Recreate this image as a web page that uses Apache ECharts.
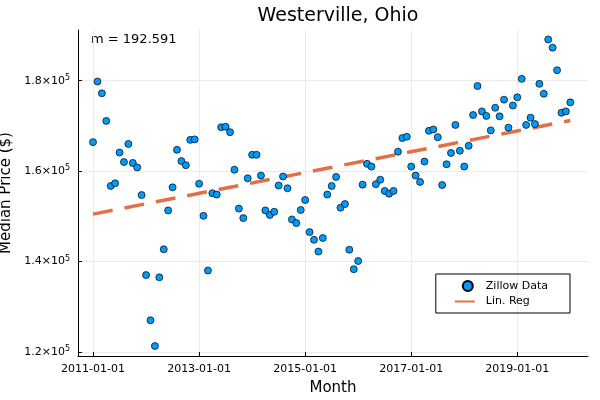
<!DOCTYPE html>
<html>
<head>
<meta charset="utf-8">
<script src="https://cdn.jsdelivr.net/npm/echarts@6/dist/echarts.min.js"></script>
<style>html,body{margin:0;padding:0;background:#fff}#main{width:600px;height:400px}</style>
</head>
<body>
<div id="main"></div>
<script>
// median price in thousands of dollars, monthly from 2011-01
var prices = [
  166.4, 179.8, 177.2, 171.1, 156.7, 157.3, 164.1, 162.0, 166.0, 161.8, 160.8, 154.7,
  137.0, 127.0, 121.3, 136.5, 142.7, 151.3, 156.4, 164.7, 162.2, 161.3, 166.9, 167.0,
  157.2, 150.1, 138.0, 155.1, 154.8, 169.7, 169.8, 168.6, 160.3, 151.7, 149.6, 158.4,
  163.6, 163.6, 159.0, 151.3, 150.3, 151.0, 156.8, 158.8, 156.2, 149.3, 148.5, 151.4,
  153.6, 146.5, 144.8, 142.2, 145.2, 154.8, 156.7, 158.7, 151.9, 152.7, 142.6, 138.3,
  140.1, 157.0, 161.6, 161.0, 157.1, 158.1, 155.6, 155.0, 155.6, 164.3, 167.3, 167.6,
  161.0, 159.0, 157.6, 162.1, 168.9, 169.2, 167.5, 156.9, 161.5, 164.0, 170.2, 164.5,
  161.0, 165.6, 172.4, 178.8, 173.2, 172.2, 169.0, 174.0, 172.1, 175.8, 169.6, 174.5,
  176.3, 180.4, 170.2, 171.8, 170.4, 179.3, 177.1, 189.1, 187.3, 182.3, 172.9, 173.2,
  175.2
];
var slopeText = 'm = 192.591';
var xTickMonths = [0, 24, 48, 72, 96];
var xTickLabels = ['2011-01-01', '2013-01-01', '2015-01-01', '2017-01-01', '2019-01-01'];
var yTicks = [120, 140, 160, 180];
var yTickLabels = ['1.2', '1.4', '1.6', '1.8'];

var pts = prices.map(function (v, i) { return [i, v]; });
// least squares fit
var n = pts.length, sx = 0, sy = 0, sxx = 0, sxy = 0;
pts.forEach(function (p) { sx += p[0]; sy += p[1]; sxx += p[0] * p[0]; sxy += p[0] * p[1]; });
var m = (n * sxy - sx * sy) / (n * sxx - sx * sx);
var b = (sy - m * sx) / n;
var fit = [[0, b], [n - 1, b + m * (n - 1)]];

var chart = echarts.init(document.getElementById('main'));
chart.setOption({
  animation: false,
  textStyle: { fontFamily: 'DejaVu Sans' },
  title: { text: 'Westerville, Ohio', left: 333, top: 2, textAlign: 'center',
    textStyle: { fontSize: 19, fontWeight: 'normal', color: '#000' } },
  graphic: [{ type: 'text', left: 91, top: 33,
    style: { text: slopeText, fontSize: 13, fill: '#000', fontFamily: 'DejaVu Sans' } }],
  legend: {
    right: 30, top: 274, orient: 'vertical', itemGap: 4,
    borderColor: '#000', borderWidth: 1, padding: [6, 22, 6, 18], borderRadius: 0,
    textStyle: { fontSize: 11, color: '#000' },
    data: [{ name: 'Zillow Data', icon: 'circle' }, { name: 'Lin. Reg', itemStyle: { opacity: 0 } }],
    itemWidth: 26, itemHeight: 10
  },
  grid: { left: 78, right: 12, top: 30, bottom: 44, containLabel: false, outerBoundsMode: 'none' },
  xAxis: {
    type: 'value', min: -3.4, max: 112,
    name: 'Month', nameLocation: 'middle', nameGap: 25,
    nameTextStyle: { fontSize: 15, color: '#000' },
    axisLine: { onZero: false, lineStyle: { color: '#000' } },
    axisTick: { customValues: xTickMonths, length: 4, inside: true, lineStyle: { color: '#000' } },
    axisLabel: { customValues: xTickMonths, fontSize: 11, color: '#000',
      formatter: function (v) { return xTickLabels[xTickMonths.indexOf(v)] || ''; } },
    splitLine: { show: true, lineStyle: { color: '#ebebeb' } }
  },
  yAxis: {
    type: 'value', min: 119.1, max: 191.2,
    name: 'Median Price ($)', nameLocation: 'middle', nameGap: 52,
    nameTextStyle: { fontSize: 15, color: '#000' },
    axisLine: { show: true, onZero: false, lineStyle: { color: '#000' } },
    axisTick: { customValues: yTicks, length: 4, inside: true, lineStyle: { color: '#000' } },
    axisLabel: { customValues: yTicks, color: '#000',
      formatter: function (v) { return '{b|' + yTickLabels[yTicks.indexOf(v)] + '×10}{s|5}'; },
      rich: { b: { fontSize: 11, color: '#000' }, s: { fontSize: 8, color: '#000', verticalAlign: 'top', padding: [0, 0, 6, 0] } } },
    splitLine: { show: true, lineStyle: { color: '#ebebeb' } }
  },
  series: [{
    name: 'Zillow Data', type: 'scatter', data: pts, symbolSize: 7,
    itemStyle: { color: '#009af9', borderColor: '#000', borderWidth: 0.7, opacity: 1 }
  }, {
    name: 'Lin. Reg', type: 'line', data: fit, symbol: 'none', z: 1,
    lineStyle: { color: '#e26f46', width: 3.5, type: [20, 12] },
    itemStyle: { color: '#e26f46' }
  }]
});
</script>
</body>
</html>
